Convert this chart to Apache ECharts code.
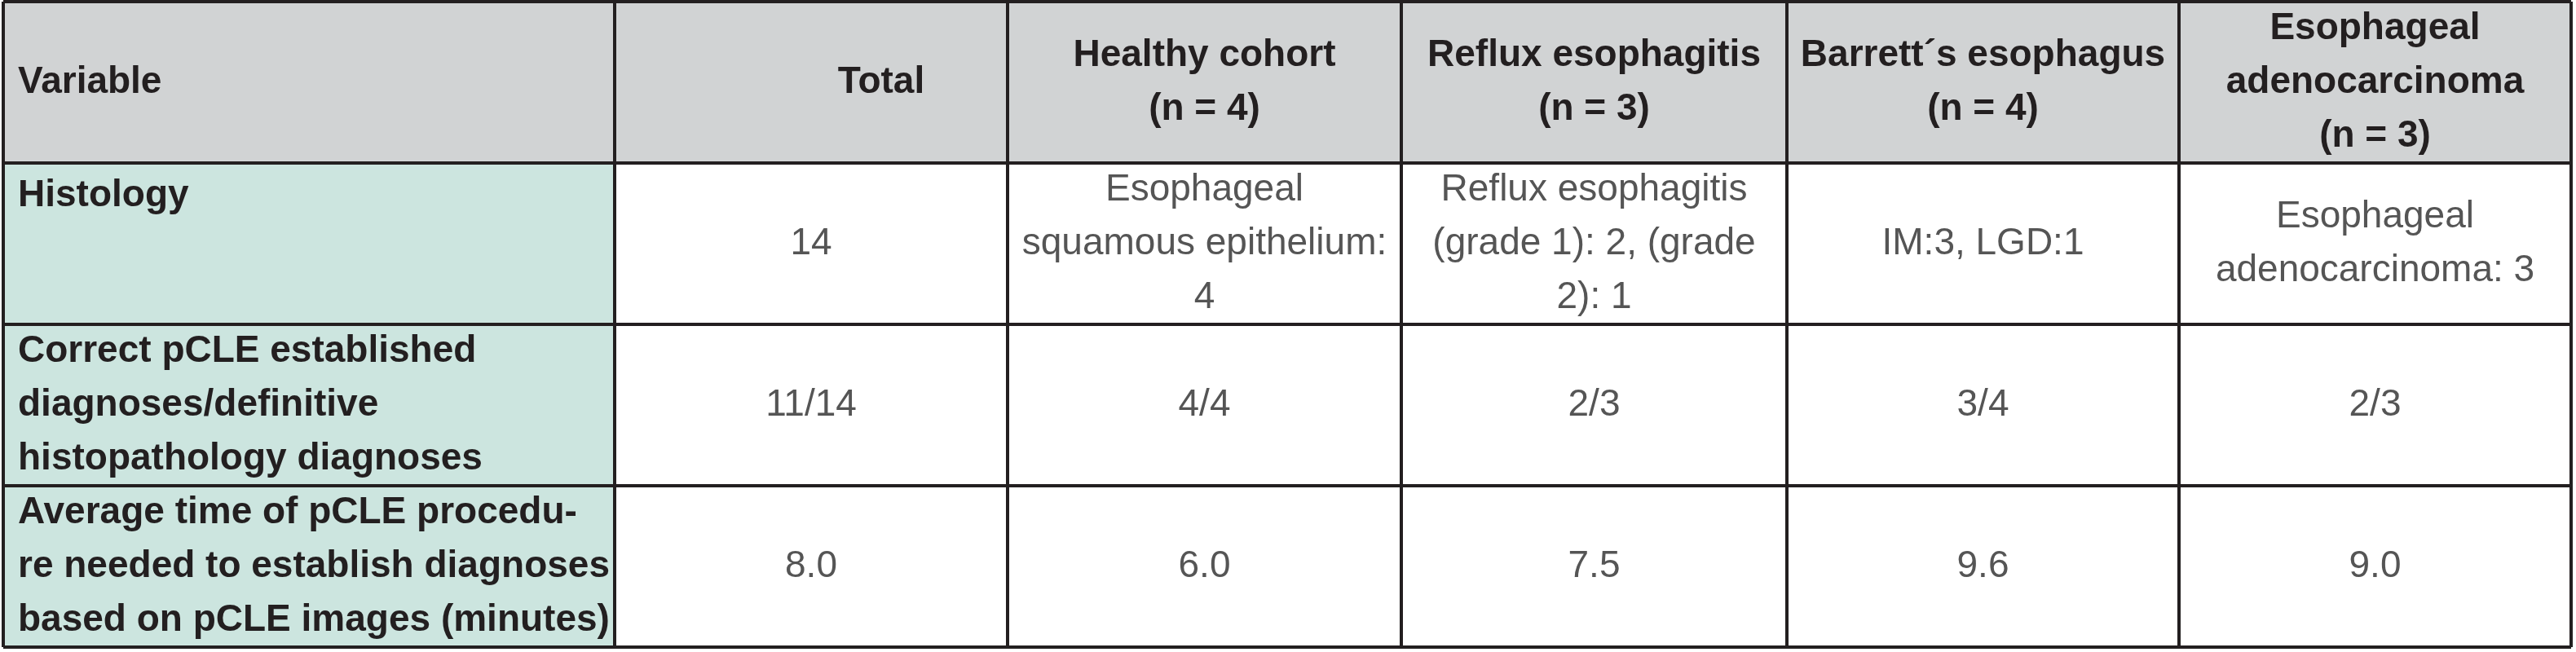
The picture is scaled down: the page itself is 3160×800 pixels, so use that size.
<!DOCTYPE html>
<html><head><meta charset="utf-8">
<script src="https://cdn.jsdelivr.net/npm/echarts@6/dist/echarts.min.js"></script>
<style>html,body{margin:0;padding:0;background:#fff}#c{width:3160px;height:800px}</style>
</head><body><div id="c"></div>
<script>
const headers = ["Variable", "Total", "Healthy cohort\n(n = 4)", "Reflux esophagitis\n(n = 3)", "Barrett\u00b4s esophagus\n(n = 4)", "Esophageal\nadenocarcinoma\n(n = 3)"];
const variables = ["Histology", "Correct pCLE established\ndiagnoses/definitive\nhistopathology diagnoses", "Average time of pCLE procedu-\nre needed to establish diagnoses\nbased on pCLE images (minutes)"];
const histologyRow = ["14", "Esophageal\nsquamous epithelium:\n4", "Reflux esophagitis\n(grade 1): 2, (grade\n2): 1", "IM:3, LGD:1", "Esophageal\nadenocarcinoma: 3"];
const correctRow = ["11/14", "4/4", "2/3", "3/4", "2/3"];
const timeRow = ["8.0", "6.0", "7.5", "9.6", "9.0"];

// layout
const colX = [4, 754, 1236, 1719, 2192, 2673, 3154];
const rowY = [2, 200, 398, 596, 794];
const LH = 66;
const FS = 46;
const FONT = "Liberation Sans, Arial, sans-serif";

const rows = [histologyRow, correctRow, timeRow];
const g = [];
// backgrounds
g.push({type:'rect', shape:{x:colX[0], y:rowY[0], width:colX[6]-colX[0], height:rowY[1]-rowY[0]}, style:{fill:'#d1d3d4'}});
g.push({type:'rect', shape:{x:colX[0], y:rowY[1], width:colX[1]-colX[0], height:rowY[4]-rowY[1]}, style:{fill:'#cce5df'}});
// header texts
headers.forEach((h,i)=>{
  const left = i===0;
  g.push({type:'text', x: left ? colX[0]+18 : (i===1 ? colX[2]-155 : (colX[i]+colX[i+1])/2), y:(rowY[0]+rowY[1])/2,
    style:{text:h, font:`bold ${FS}px ${FONT}`, fill:'#231f20', align:left?'left':'center', textAlign:left?'left':'center', verticalAlign:'middle', textVerticalAlign:'middle', lineHeight:LH}});
});
// variable labels
variables.forEach((v,r)=>{
  const top = r===0;
  g.push({type:'text', x: colX[0]+18, y: top ? rowY[1]+40 : (rowY[r+1]+rowY[r+2])/2,
    style:{text:v, font:`bold ${FS}px ${FONT}`, fill:'#231f20', align:'left', textAlign:'left', verticalAlign:'middle', textVerticalAlign:'middle', lineHeight:LH}});
});
// cells
rows.forEach((row,r)=>{
  row.forEach((t,c)=>{
    g.push({type:'text', x:(colX[c+1]+colX[c+2])/2, y:(rowY[r+1]+rowY[r+2])/2,
      style:{text:t, font:`${FS}px ${FONT}`, fill:'#555555', align:'center', textAlign:'center', verticalAlign:'middle', textVerticalAlign:'middle', lineHeight:LH}});
  });
});
// lines
rowY.forEach(y=>g.push({type:'line', shape:{x1:colX[0], y1:y, x2:colX[6], y2:y}, style:{stroke:'#231f20', lineWidth:4}}));
colX.forEach(x=>g.push({type:'line', shape:{x1:x, y1:rowY[0], x2:x, y2:rowY[4]}, style:{stroke:'#231f20', lineWidth:4}}));

const chart = echarts.init(document.getElementById('c'));
chart.setOption({animation:false, graphic:{elements:g}});
</script></body></html>
